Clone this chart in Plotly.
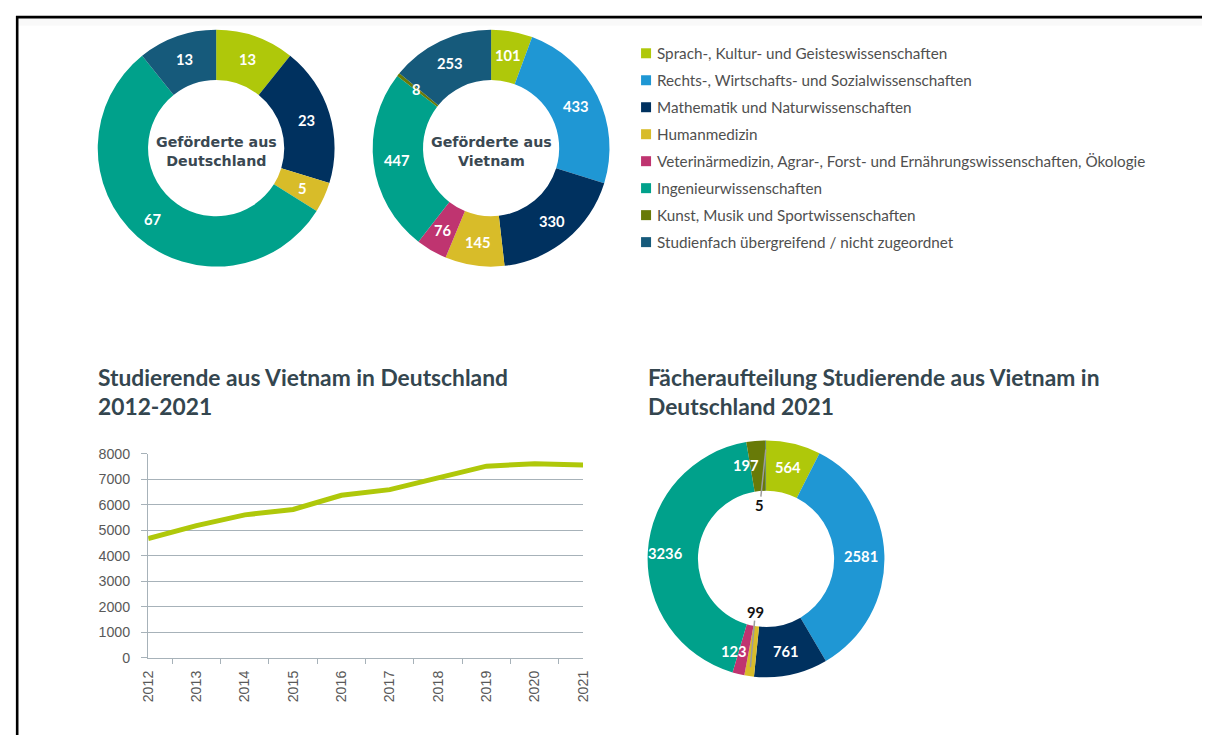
import math
import plotly.graph_objects as go

# ---------------- data ----------------
categories = [
    "Sprach-, Kultur- und Geisteswissenschaften",
    "Rechts-, Wirtschafts- und Sozialwissenschaften",
    "Mathematik und Naturwissenschaften",
    "Humanmedizin",
    "Veterinärmedizin, Agrar-, Forst- und Ernährungswissenschaften, Ökologie",
    "Ingenieurwissenschaften",
    "Kunst, Musik und Sportwissenschaften",
    "Studienfach übergreifend / nicht zugeordnet",
]
cat_colors = ["#afc80a", "#1f97d4", "#00315f", "#d8bc29", "#bf3470", "#00a18b", "#687a08", "#165a7b"]

gefoerderte_de = [13, 0, 23, 5, 0, 67, 0, 13]
gefoerderte_vn = [101, 433, 330, 145, 76, 447, 8, 253]
faecher_2021 = [564, 2581, 761, 99, 123, 3236, 197, 5]

years = ["2012", "2013", "2014", "2015", "2016", "2017", "2018", "2019", "2020", "2021"]
studierende = [4680, 5190, 5610, 5820, 6380, 6600, 7060, 7520, 7620, 7566]
y_ticks = [0, 1000, 2000, 3000, 4000, 5000, 6000, 7000, 8000]

title_line = ["Studierende aus Vietnam in Deutschland", "2012-2021"]
title_donut = ["Fächeraufteilung Studierende aus Vietnam in", "Deutschland 2021"]
center_de = "Geförderte aus<br>Deutschland"
center_vn = "Geförderte aus<br>Vietnam"

# ---------------- layout helpers ----------------
W, H = 1210, 735
# the photographed page places the figure with a small inset and scale
OX, OY, SX, SY = 15.8, 15.7, 0.987, 0.979
SF = (SX + SY) / 2
def fx(t):
    return (t - OX) / SX
def fy(t):
    return (t - OY) / SY
def px(t):
    return max(0.0, min(1.0, fx(t) / W))
def py(t):
    return max(0.0, min(1.0, 1 - fy(t) / H))
def fs(s):
    return round(s / SF, 2)

TXT_DARK = "#34464f"
TXT_GREY = "#4f4f4f"

fig = go.Figure()
annotations = []
shapes = []

HOLE = 0.575
R = 119

def add_donut(values, cx, cy, center_text=None, hole_labels=(), xshift=None):
    rf = R / SF
    fig.add_trace(go.Pie(
        values=values, labels=categories,
        marker=dict(colors=cat_colors, line=dict(width=0)),
        hole=HOLE, sort=False, direction="clockwise", rotation=0,
        textinfo="none", hoverinfo="label+value", showlegend=False,
        domain=dict(x=[(fx(cx) - rf) / W, (fx(cx) + rf) / W],
                    y=[1 - (fy(cy) + rf) / H, 1 - (fy(cy) - rf) / H]),
    ))
    total = sum(values)
    cum = 0
    r_mid = R * (1 + HOLE) / 2 + 1
    for i, v in enumerate(values):
        if v > 0:
            ang = math.radians((cum + v / 2) / total * 360)
            sx = xshift[i] if xshift else 0
            if i in hole_labels:
                r_lab = R * HOLE - 15
                lx = cx + r_lab * math.sin(ang) + sx
                ly = cy - r_lab * math.cos(ang)
                ox = cx + R * 0.92 * math.sin(ang)
                oy = cy - R * 0.92 * math.cos(ang)
                dx, dy = lx - ox, ly - oy
                d = math.hypot(dx, dy)
                ex, ey = lx - dx / d * 9, ly - dy / d * 9
                shapes.append(dict(type="line", xref="paper", yref="paper",
                                   x0=px(ox), y0=py(oy), x1=px(ex), y1=py(ey),
                                   line=dict(color="#9c9c9c", width=1.5)))
                color = "#111111"
            else:
                lx = cx + r_mid * math.sin(ang) + sx
                ly = cy - r_mid * math.cos(ang)
                color = "white"
            annotations.append(dict(x=px(lx), y=py(ly), xref="paper", yref="paper",
                                    text=str(v), showarrow=False,
                                    xanchor="center", yanchor="middle",
                                    font=dict(family="Lato", size=fs(14.5), color=color, weight="bold")))
        cum += v
    if center_text:
        annotations.append(dict(x=px(cx), y=py(cy + 3), xref="paper", yref="paper",
                                text=center_text, showarrow=False, align="center",
                                xanchor="center", yanchor="middle",
                                font=dict(family="DejaVu Sans", size=fs(14), color="#3a4852", weight="bold")))

add_donut(gefoerderte_de, 216, 148, center_de)
add_donut(gefoerderte_vn, 491, 148, center_vn)
add_donut(faecher_2021, 766, 559, None, hole_labels=(3, 7),
          xshift=[0, 0, 0, -3, -10, -6, -12, -6])

# ---------------- line chart ----------------
fig.add_trace(go.Scatter(
    x=years, y=studierende, mode="lines",
    line=dict(color="#afc80a", width=5),
    showlegend=False, hoverinfo="x+y",
))
GRID = "#a7b2b9"
fig.update_xaxes(
    domain=[px(148), px(583)], type="category",
    tickson="boundaries", ticks="outside", ticklen=5, tickcolor=GRID, tickwidth=1.3,
    showline=True, linecolor=GRID, linewidth=1.3, showgrid=False, zeroline=False,
    tickangle=-90, tickfont=dict(family="Liberation Sans", size=fs(14), color="#595959"),
    ticklabelstandoff=6,
)
fig.update_yaxes(
    domain=[py(658), py(454)], range=[0, 8000], tickvals=y_ticks,
    showgrid=True, gridcolor=GRID, gridwidth=1.3,
    showline=True, linecolor=GRID, linewidth=1.3, zeroline=False,
    ticks="outside", ticklen=6, tickcolor=GRID, tickwidth=1.3,
    tickfont=dict(family="Liberation Sans", size=fs(14), color="#595959"),
    ticklabelstandoff=8,
)

# ---------------- titles ----------------
for i, t in enumerate(title_line):
    annotations.append(dict(x=px(96), y=py(377 + 30 * i), xref="paper", yref="paper",
                            text=t, showarrow=False, xanchor="left", yanchor="middle",
                            font=dict(family="Lato", size=fs(22.4), color=TXT_DARK, weight="bold")))
for i, t in enumerate(title_donut):
    annotations.append(dict(x=px(646), y=py(377 + 30 * i), xref="paper", yref="paper",
                            text=t, showarrow=False, xanchor="left", yanchor="middle",
                            font=dict(family="Lato", size=fs(22.4), color=TXT_DARK, weight="bold")))

# ---------------- legend ----------------
for i, (c, col) in enumerate(zip(categories, cat_colors)):
    yc = 53 + 27 * i
    shapes.append(dict(type="rect", xref="paper", yref="paper",
                       x0=px(641), x1=px(651), y0=py(yc + 5), y1=py(yc - 5),
                       fillcolor=col, line=dict(width=0)))
    annotations.append(dict(x=px(655), y=py(yc), xref="paper", yref="paper",
                            text=c, showarrow=False, xanchor="left", yanchor="middle",
                            font=dict(family="Lato", size=fs(15.0), color=TXT_GREY)))

# ---------------- frame ----------------
shapes.append(dict(type="rect", xref="paper", yref="paper",
                   x0=0, x1=1, y0=1 - 10 / H, y1=1,
                   fillcolor="rgba(0,0,0,0.025)", line=dict(width=0), layer="below"))
shapes.append(dict(type="line", xref="paper", yref="paper",
                   x0=0, x1=1, y0=1 - 1.2 / H, y1=1 - 1.2 / H,
                   line=dict(color="black", width=2.6)))
shapes.append(dict(type="line", xref="paper", yref="paper",
                   x0=1.2 / W, x1=1.2 / W, y0=1, y1=0,
                   line=dict(color="black", width=2.6)))

fig.update_layout(
    width=W, height=H, margin=dict(l=0, r=0, t=0, b=0),
    paper_bgcolor="white", plot_bgcolor="white",
    showlegend=False, annotations=annotations, shapes=shapes,
)

fig.write_html("out.html", config={"responsive": False})
